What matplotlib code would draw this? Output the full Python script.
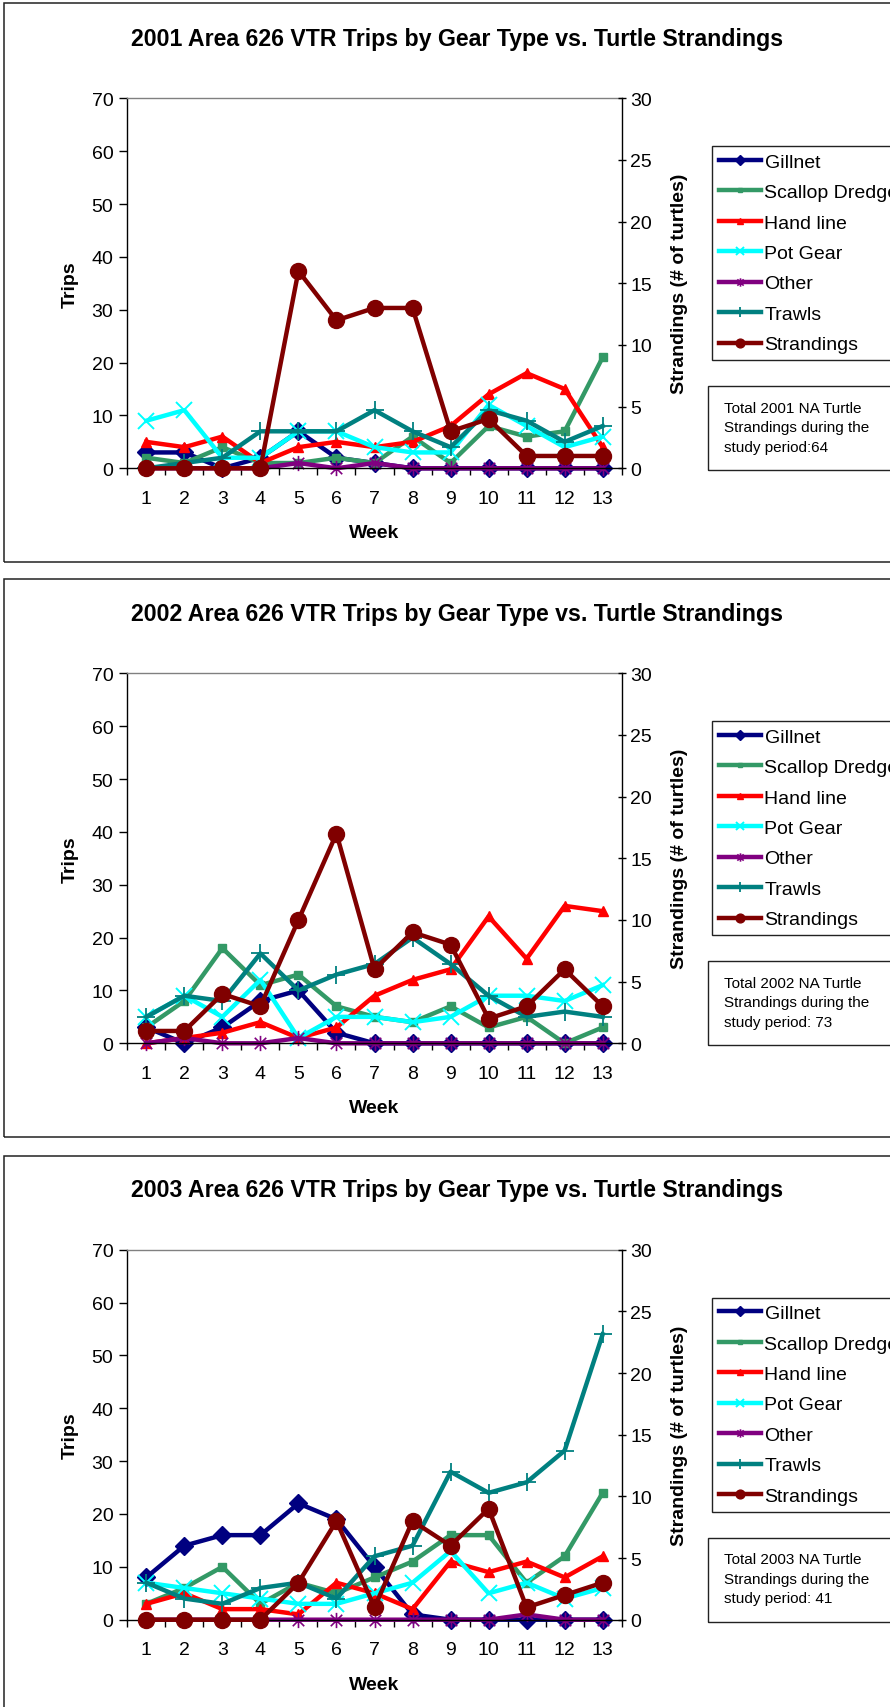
import matplotlib
matplotlib.use('Agg')
import matplotlib.pyplot as plt
from matplotlib.patches import Rectangle
from matplotlib.path import Path

plt.rcParams['font.family'] = ['Liberation Sans', 'DejaVu Sans']

weeks = list(range(1, 14))
years = ['2001', '2002', '2003']
series_names = ['Gillnet', 'Scallop Dredge', 'Hand line', 'Pot Gear', 'Other', 'Trawls']

gillnet_2001 = [3, 3, 0, 2, 7, 2, 1, 0, 0, 0, 0, 0, 0]
scallop_2001 = [2, 1, 4, 1, 1, 2, 1, 6, 1, 8, 6, 7, 21]
handline_2001 = [5, 4, 6, 1, 4, 5, 4, 5, 8, 14, 18, 15, 4]
potgear_2001 = [9, 11, 2, 2, 7, 7, 4, 3, 3, 12, 8, 4, 6]
other_2001 = [0, 0, 0, 0, 1, 0, 1, 0, 0, 0, 0, 0, 0]
trawls_2001 = [0, 1, 2, 7, 7, 7, 11, 7, 4, 11, 9, 5, 8]
strandings_2001 = [0, 0, 0, 0, 16, 12, 13, 13, 3, 4, 1, 1, 1]

gillnet_2002 = [3, 0, 3, 8, 10, 2, 0, 0, 0, 0, 0, 0, 0]
scallop_2002 = [3, 8, 18, 11, 13, 7, 5, 4, 7, 3, 5, 0, 3]
handline_2002 = [0, 1, 2, 4, 1, 3, 9, 12, 14, 24, 16, 26, 25]
potgear_2002 = [5, 9, 5, 12, 1, 5, 5, 4, 5, 9, 9, 8, 11]
other_2002 = [0, 1, 0, 0, 1, 0, 0, 0, 0, 0, 0, 0, 0]
trawls_2002 = [5, 9, 8, 17, 10, 13, 15, 20, 15, 9, 5, 6, 5]
strandings_2002 = [1, 1, 4, 3, 10, 17, 6, 9, 8, 2, 3, 6, 3]

gillnet_2003 = [8, 14, 16, 16, 22, 19, 10, 1, 0, 0, 0, 0, 0]
scallop_2003 = [3, 6, 10, 3, 7, 5, 8, 11, 16, 16, 7, 12, 24]
handline_2003 = [3, 5, 2, 2, 1, 7, 5, 2, 11, 9, 11, 8, 12]
potgear_2003 = [7, 6, 5, 4, 3, 3, 5, 7, 13, 5, 7, 4, 6]
other_2003 = [0, 0, 0, 0, 0, 0, 0, 0, 0, 0, 1, 0, 0]
trawls_2003 = [7, 4, 3, 6, 7, 4, 12, 14, 28, 24, 26, 32, 54]
strandings_2003 = [0, 0, 0, 0, 3, 8, 1, 8, 6, 9, 1, 2, 3]

totals = ['64', ' 73', ' 41']
trips_ticks = [0, 10, 20, 30, 40, 50, 60, 70]
strand_ticks = [0, 5, 10, 15, 20, 25, 30]

data = {
    '2001': [gillnet_2001, scallop_2001, handline_2001, potgear_2001, other_2001, trawls_2001, strandings_2001],
    '2002': [gillnet_2002, scallop_2002, handline_2002, potgear_2002, other_2002, trawls_2002, strandings_2002],
    '2003': [gillnet_2003, scallop_2003, handline_2003, potgear_2003, other_2003, trawls_2003, strandings_2003],
}

# asterisk marker (vertical + two diagonals)
ast = Path([(0, -1), (0, 1), (-0.75, -0.75), (0.75, 0.75), (-0.75, 0.75), (0.75, -0.75)],
           [Path.MOVETO, Path.LINETO, Path.MOVETO, Path.LINETO, Path.MOVETO, Path.LINETO])

styles = [
    dict(color='#000080', marker='D', ms=9),
    dict(color='#339966', marker='s', ms=6),
    dict(color='#FF0000', marker='^', ms=7.5),
    dict(color='#00FFFF', marker='x', ms=11, mew=1.4),
    dict(color='#800080', marker=ast, ms=11, mew=1.2),
    dict(color='#008080', marker='+', ms=13, mew=1.3),
]
strand_style = dict(color='#800000', marker='o', ms=11.5)

W, H = 890, 1708
fig = plt.figure(figsize=(W / 100, H / 100), dpi=100)

ax_tops = [99.3, 674.3, 1250.7]
frames = [(4, 563), (580, 1138), (1157, 1730)]
ax_left, ax_right, ax_h = 127.3, 621.7, 370.0
lw = 3.2
tick_fs = 14
lab_fs = 14

for i, yr in enumerate(years):
    ft, fb = frames[i]
    fig.patches.append(Rectangle((3.5 / W, 1 - fb / H), (W + 20) / W, (fb - ft) / H,
                                 transform=fig.transFigure, fill=False,
                                 edgecolor='#222222', lw=1.1, zorder=0))
    top = ax_tops[i]
    ax = fig.add_axes([ax_left / W, 1 - (top + ax_h) / H, (ax_right - ax_left) / W, ax_h / H])
    ax.patch.set_alpha(0)
    vals = data[yr]
    handles = []
    for name, v, st in zip(series_names, vals[:6], styles):
        h, = ax.plot(weeks, v, lw=lw, label=name, clip_on=False, **st)
        handles.append(h)
    ax.set_xlim(0.5, 13.5)
    ax.set_ylim(0, 70)
    ax.set_yticks(trips_ticks)
    ax.set_xticks(weeks)
    ax.set_xticks([w - 0.5 for w in weeks] + [13.5], minor=True)
    ax.tick_params(axis='x', which='major', length=0, pad=15.5, labelsize=tick_fs)
    ax.tick_params(axis='x', which='minor', length=5, direction='out', width=1)
    ax.tick_params(axis='y', length=6, direction='out', width=1, pad=4, labelsize=tick_fs)
    for s in ['left', 'bottom']:
        ax.spines[s].set_color('black')
        ax.spines[s].set_linewidth(1)
    ax.spines['top'].set_color('#808080')
    ax.spines['top'].set_linewidth(1)
    ax.spines['right'].set_visible(False)
    ax.set_xlabel('Week', fontsize=lab_fs, fontweight='bold', labelpad=12.5)
    ax.set_ylabel('Trips', fontsize=lab_fs, fontweight='bold', labelpad=9)

    ax2 = ax.twinx()
    ax2.set_position(ax.get_position())
    h2, = ax2.plot(weeks, vals[6], lw=lw, label='Strandings', clip_on=False, **strand_style)
    handles.append(h2)
    ax2.set_ylim(0, 30)
    ax2.set_yticks(strand_ticks)
    ax2.tick_params(axis='y', length=6, direction='inout', width=1, pad=3, labelsize=tick_fs)
    ax2.spines['right'].set_color('black')
    ax2.spines['right'].set_linewidth(1)
    for s in ['left', 'top', 'bottom']:
        ax2.spines[s].set_visible(False)
    ax2.set_ylabel('Strandings (# of turtles)', fontsize=lab_fs, fontweight='bold', labelpad=14)

    fig.text(457 / W, 1 - (top - 60) / H, f'{yr} Area 626 VTR Trips by Gear Type vs. Turtle Strandings',
             ha='center', va='center', fontsize=16.7, fontweight='bold')

    leg = fig.legend(handles=handles, labels=[h.get_label() for h in handles],
                     loc='upper left', bbox_to_anchor=(712 / W, 1 - (top + 48) / H),
                     bbox_transform=fig.transFigure, borderaxespad=0,
                     fontsize=14, frameon=True, fancybox=False, framealpha=1,
                     edgecolor='#222222', markerscale=0.55, handlelength=2.15,
                     handletextpad=0.2, labelspacing=0.66, borderpad=0.35)
    leg.get_frame().set_linewidth(1)

    bt, bb = top + 288, top + 372
    fig.patches.append(Rectangle((708 / W, 1 - bb / H), 200 / W, (bb - bt) / H,
                                 transform=fig.transFigure, fill=False,
                                 edgecolor='#222222', lw=1))
    fig.text(724 / W, 1 - (bt + 41) / H,
             f'Total {yr} NA Turtle\nStrandings during the\nstudy period:{totals[i]}',
             ha='left', va='center', fontsize=11, linespacing=1.5)

fig.savefig('out.png', dpi=100)
